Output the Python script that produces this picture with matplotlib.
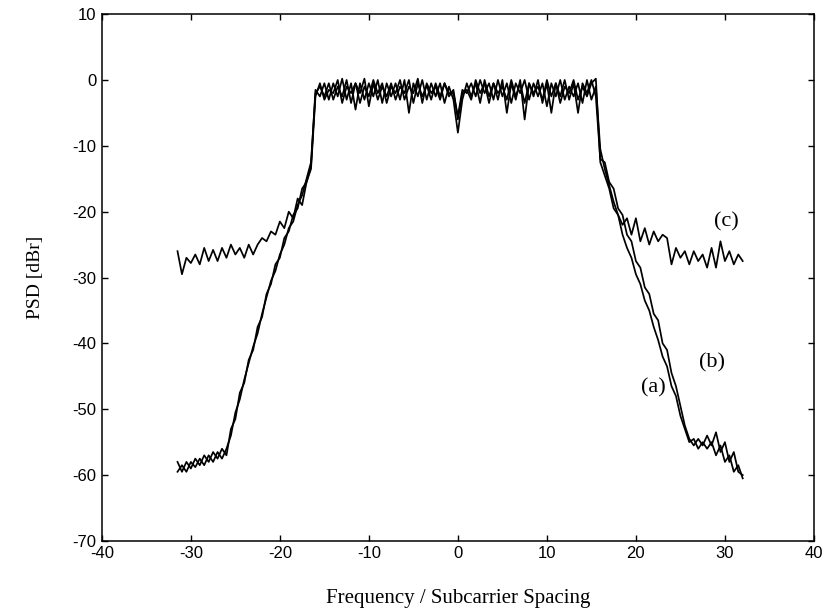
import numpy as np
import matplotlib
matplotlib.use("Agg")
import matplotlib.pyplot as plt

plt.rcParams["axes.unicode_minus"] = False

# frequency grid (subcarrier spacing units)
freq = np.arange(-31.5, 32.01, 0.5)

psd_a = [
    -59.5, -58.5, -59.5, -58.0, -58.8, -57.5, -58.5, -57.0, -58.0, -56.5, -57.5, -56.0,
    -54.0, -50.5, -48.5, -45.5, -43.0, -40.5, -38.5, -35.5, -33.0, -30.5, -29.0, -26.5,
    -25.0, -22.5, -21.5, -19.0, -17.5, -15.0, -12.5, -2.0,
    -1.0, -2.5, -0.5, -3.0, -1.0, -2.5, 0.0, -3.5, -0.5, -2.0, 0.2, -4.0, -0.5, -3.0,
    -1.0, -2.5, -0.5, -3.0, -1.0, -2.0, 0.0, -3.5, -0.5, -2.5, -0.8, -3.0, -0.5, -2.5,
    -0.5, -2.0, -2.0, -5.5, -1.5, -2.0, -0.5, -2.5, 0.0, -2.0, -0.5, -3.0, 0.0, -2.5,
    -0.5, -3.5, -0.5, -2.0, 0.0, -3.0, -0.5, -2.5, -0.5, -4.0, -0.5, -2.5, 0.0, -3.0,
    -1.0, -2.5, -0.5, -3.5, 0.0, -3.0, -1.0,
    -10.5, -13.5, -16.0, -18.5, -20.5, -23.5, -25.5, -27.0, -29.5, -31.0, -33.5, -35.0,
    -37.5, -39.5, -42.0, -43.5, -46.5, -48.0, -51.0, -53.0, -55.0, -54.5, -56.0, -55.0,
    -56.0, -55.0, -57.0, -55.5, -58.0, -57.0, -59.5, -58.5, -60.5,
]

psd_b = [
    -58.0, -59.5, -58.0, -59.0, -57.5, -58.5, -57.0, -58.0, -56.5, -57.5, -56.0, -57.0,
    -53.0, -51.5, -47.5, -46.0, -42.5, -41.0, -37.5, -36.0, -32.5, -31.0, -28.0, -27.0,
    -24.0, -23.0, -20.5, -19.5, -16.5, -15.5, -13.0, -1.5,
    -2.5, -0.5, -3.0, -0.5, -2.5, 0.2, -3.0, -0.5, -4.5, -0.5, -3.0, -0.5, -2.5, 0.0,
    -3.5, -0.5, -2.5, -0.5, -3.0, 0.0, -5.0, -0.5, -2.5, 0.0, -3.0, -0.5, -2.5, -0.5,
    -3.5, -1.0, -3.0, -8.0, -3.0, -0.5, -2.5, -0.5, -3.5, 0.0, -2.5, -0.5, -3.0, 0.0,
    -5.0, -0.5, -3.0, 0.0, -6.0, -0.5, -2.5, 0.0, -3.5, -0.5, -5.0, -0.5, -2.5, 0.0,
    -3.0, -0.5, -5.0, -0.5, -2.0, 0.0, -2.5,
    -12.0, -12.5, -15.5, -16.5, -19.5, -20.5, -23.5, -24.5, -27.5, -28.5, -31.5, -32.5,
    -35.5, -36.5, -40.0, -41.0, -44.5, -46.5, -49.5, -52.5, -54.5, -55.5, -54.5, -55.5,
    -54.0, -55.5, -53.5, -56.5, -55.0, -58.0, -56.5, -59.5, -60.0,
]

psd_c = [
    -26.0, -29.5, -27.0, -27.8, -26.5, -28.0, -25.5, -27.5, -25.8, -27.5, -25.5, -27.0,
    -25.0, -26.5, -25.5, -27.0, -25.0, -26.5, -25.0, -24.0, -24.5, -23.0, -23.5, -21.5,
    -22.5, -20.0, -21.0, -18.0, -19.0, -15.5, -13.5, -2.5,
    -0.5, -3.0, -1.5, -2.0, 0.0, -3.5, -1.0, -2.0, -0.5, -3.5, -1.0, -2.5, 0.0, -2.0,
    -0.5, -3.5, -1.0, -2.0, 0.0, -3.0, -1.0, -2.0, 0.2, -3.5, -0.5, -2.0, -1.0, -3.0,
    -0.5, -2.5, -1.5, -6.0, -2.0, -1.5, -3.0, 0.0, -2.0, -0.5, -3.5, -0.5, -2.0, -1.0,
    -3.0, 0.0, -2.5, -0.5, -3.5, -0.5, -2.0, -1.0, -3.0, 0.0, -2.5, -0.5, -3.5, -1.0,
    -2.0, 0.0, -3.0, -1.0, -2.5, -0.5, 0.2,
    -12.5, -14.5, -16.5, -19.5, -20.5, -22.0, -21.0, -23.5, -21.0, -24.5, -22.5, -25.0,
    -23.0, -24.5, -23.5, -24.0, -28.0, -25.5, -27.0, -26.0, -28.0, -26.0, -27.5, -26.5,
    -28.5, -25.5, -28.5, -24.5, -27.5, -26.0, -28.0, -26.5, -27.5,
]

series_labels = ["(a)", "(b)", "(c)"]
label_pos = [(22.0, -46.7), (28.5, -42.9), (30.2, -21.5)]

xticks = [-40, -30, -20, -10, 0, 10, 20, 30, 40]
yticks = [-70, -60, -50, -40, -30, -20, -10, 0, 10]

fig = plt.figure(figsize=(8.28, 6.14), dpi=100)
ax = fig.add_axes([0.123, 0.119, 0.860, 0.858])

for s in (psd_a, psd_b, psd_c):
    ax.plot(freq, s, color="black", lw=1.25)

for lab, (lx, ly) in zip(series_labels, label_pos):
    ax.text(lx, ly, lab, family="Liberation Serif", fontsize=16,
            ha="center", va="center")

ax.set_xlim(-40, 40)
ax.set_ylim(-70, 10)
ax.set_xticks(xticks)
ax.set_yticks(yticks)
ax.tick_params(direction="in", length=4, width=1, top=True, right=True,
               labelsize=12, pad=4)
for lab in ax.get_xticklabels() + ax.get_yticklabels():
    lab.set_family("Liberation Sans")
for sp in ax.spines.values():
    sp.set_linewidth(1.1)

ax.set_xlabel("Frequency / Subcarrier Spacing", family="Liberation Serif",
              fontsize=15, labelpad=20)
ax.set_ylabel("PSD [dBr]", family="Liberation Serif", fontsize=14, labelpad=20)

fig.savefig("out.png", dpi=100)
